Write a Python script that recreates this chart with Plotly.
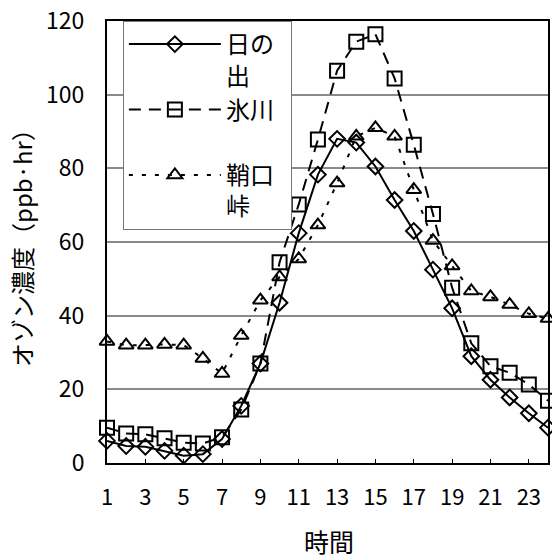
import plotly.graph_objects as go

# Hourly ozone concentration at three sites
hours = list(range(1, 25))
hinode = [6, 4.6, 4.4, 3.3, 2, 2.4, 6.5, 15.5, 27, 43.5, 62.4, 78.3, 88, 87, 80.5, 71.4,
          63, 52.5, 42, 29, 22.6, 17.8, 13.5, 9.6]
hikawa = [9.6, 8, 7.8, 6.7, 5.5, 5.3, 7, 14.5, 27, 54.5, 70.2, 87.8, 106.5, 114.4, 116.4, 104.4,
          86.4, 67.6, 47.6, 32.5, 26.3, 24.5, 21.3, 16.9]
sayaguchi = [33, 32, 32, 32.2, 32, 28.4, 24.3, 34.6, 44.2, 50.5, 55.4, 64.6, 76, 88.7, 91, 88.7,
             74.2, 60.4, 53.5, 46.7, 45.1, 43, 40.5, 39.2]

series_names = ["日の\u2002<br>出", "氷川<br>\u3000", "鞘口<br>峠"]
x_ticks = list(range(1, 24, 2))
y_ticks = [0, 20, 40, 60, 80, 100, 120]

FONT = "Noto Sans CJK JP, Noto Sans, sans-serif"

fig = go.Figure()
fig.add_trace(go.Scatter(
    x=hours, y=hinode, name=series_names[0], mode="lines+markers",
    line=dict(color="black", width=2, dash="solid"),
    marker=dict(symbol="diamond-open", size=12, color="black", line=dict(width=2, color="black")),
    cliponaxis=False,
))
fig.add_trace(go.Scatter(
    x=hours, y=hikawa, name=series_names[1], mode="lines+markers",
    line=dict(color="black", width=2, dash="12px,8px"),
    marker=dict(symbol="square-open", size=14, color="black", line=dict(width=2, color="black")),
    cliponaxis=False,
))
fig.add_trace(go.Scatter(
    x=hours, y=sayaguchi, name=series_names[2], mode="lines+markers",
    line=dict(color="black", width=2, dash="4px,9px"),
    marker=dict(symbol="triangle-up-open", size=13, color="black", line=dict(width=2, color="black")),
    cliponaxis=False,
))

fig.update_layout(
    width=552, height=559,
    margin=dict(l=107, r=2, t=21, b=96),
    paper_bgcolor="white", plot_bgcolor="white",
    font=dict(family=FONT, color="black", size=22),
    showlegend=True,
    legend=dict(
        x=0.036, y=1, xanchor="left", yanchor="top",
        bgcolor="white", bordercolor="#777", borderwidth=1,
        font=dict(size=24, family=FONT, color="black"),
        itemwidth=92, valign="top", tracegroupgap=0,
    ),
    xaxis=dict(
        range=[1, 24], tickvals=x_ticks, ticktext=[str(v) for v in x_ticks],
        showgrid=False, zeroline=False,
        showline=True, linecolor="black", linewidth=2, mirror=True,
        ticks="inside", ticklen=4, tickcolor="black",
        tickfont=dict(size=22, family=FONT), ticklabelstandoff=14,
    ),
    yaxis=dict(
        range=[0, 120], tickvals=y_ticks,
        showgrid=True, gridcolor="#8a8a8a", gridwidth=1.5, zeroline=False,
        showline=True, linecolor="black", linewidth=2, mirror=True,
        ticks="", tickfont=dict(size=23, family=FONT), ticklabelstandoff=16,
    ),
    annotations=[
        dict(text="オゾン濃度（ppb·hr）", xref="paper", yref="paper", x=0, y=0.5,
             xanchor="center", yanchor="middle", xshift=-86, textangle=-90,
             showarrow=False, font=dict(size=24, family=FONT)),
        dict(text="時間", xref="paper", yref="paper", x=0.503, y=0,
             xanchor="center", yanchor="middle", yshift=-78,
             showarrow=False, font=dict(size=25, family=FONT)),
    ],
)

fig.write_html("out.html")
